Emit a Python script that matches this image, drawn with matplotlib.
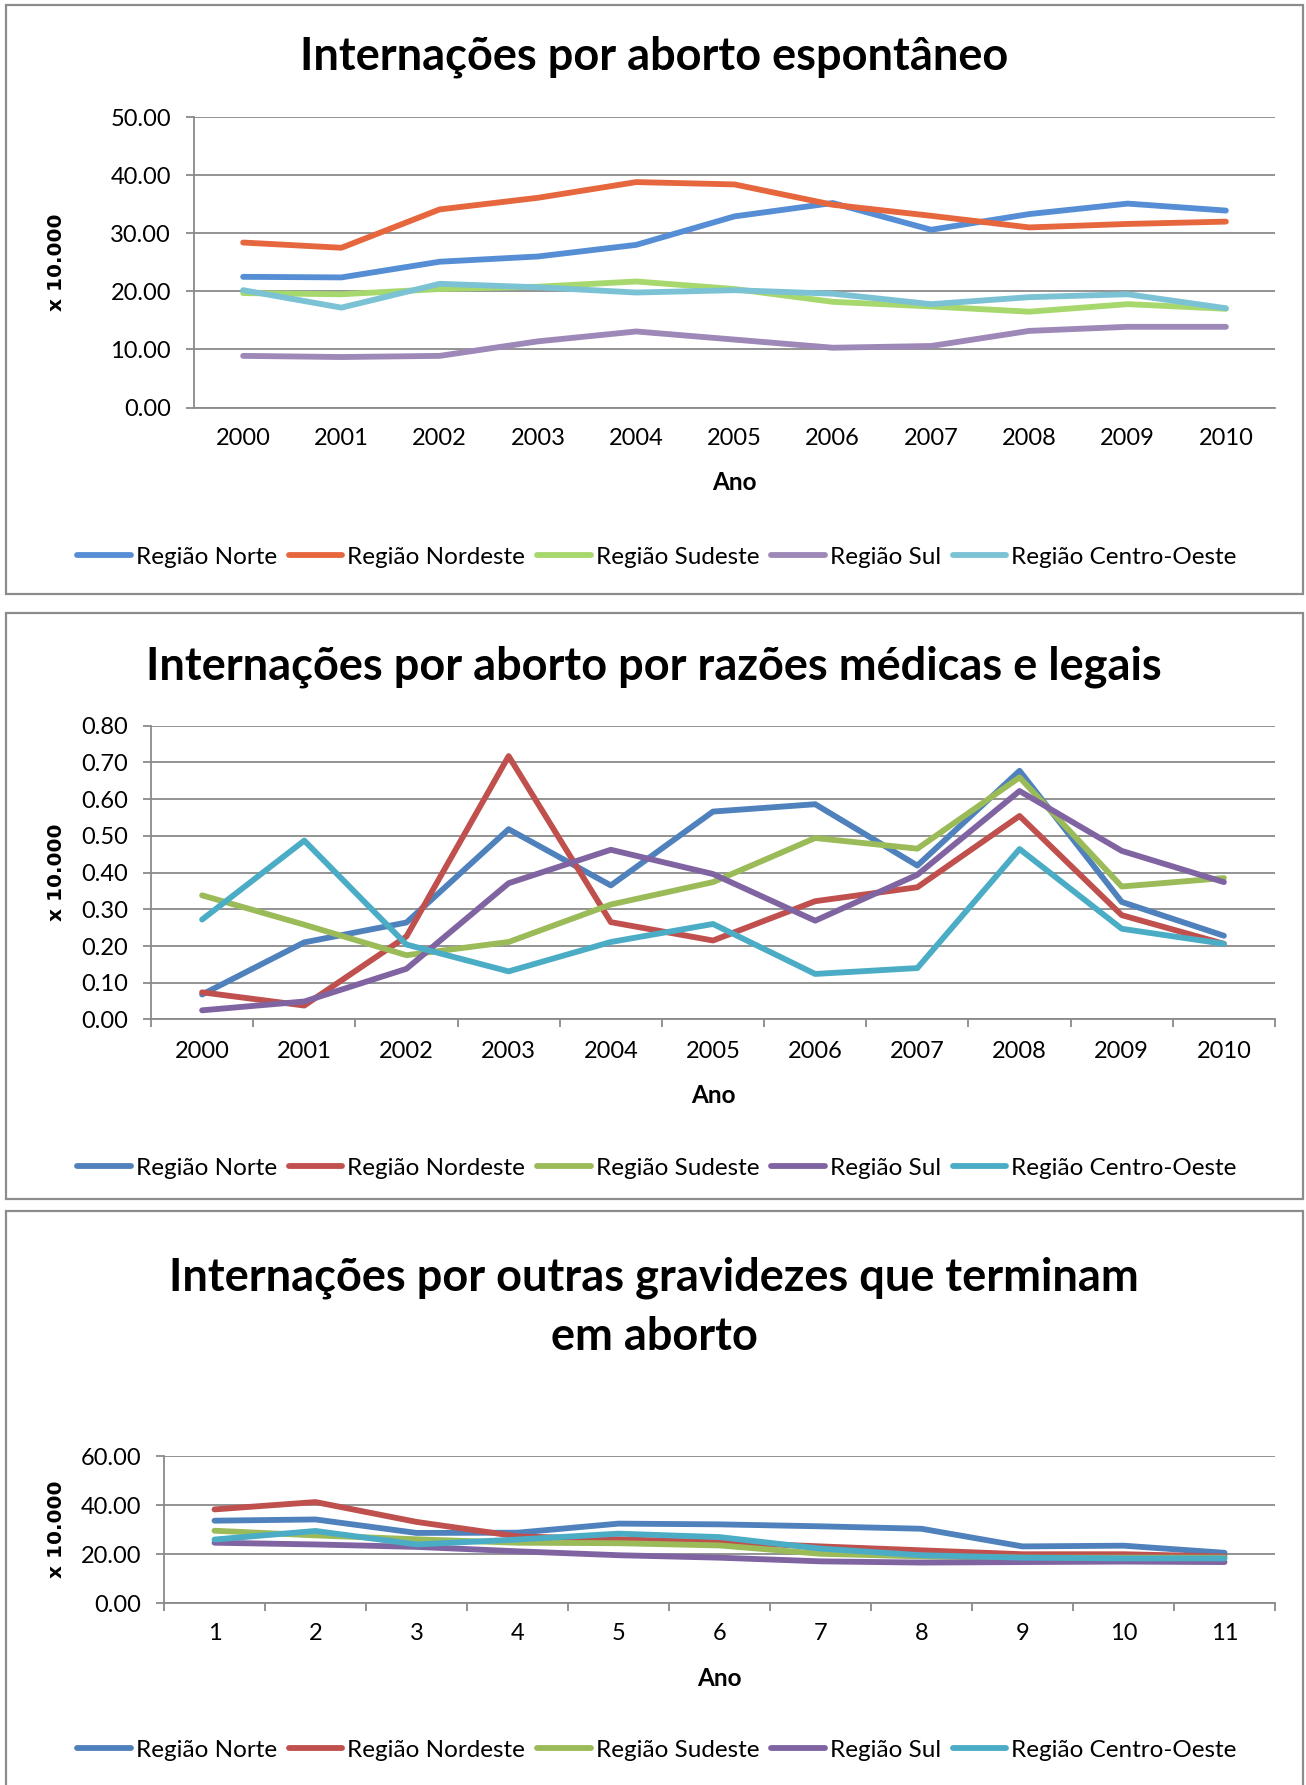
import matplotlib
matplotlib.use("Agg")
import matplotlib.pyplot as plt
from matplotlib.lines import Line2D
from matplotlib.patches import Rectangle

W, H = 1306, 1785
DPI = 100

regions = ["Região Norte", "Região Nordeste", "Região Sudeste", "Região Sul", "Região Centro-Oeste"]
years = ["2000", "2001", "2002", "2003", "2004", "2005", "2006", "2007", "2008", "2009", "2010"]
index_labels = ["1", "2", "3", "4", "5", "6", "7", "8", "9", "10", "11"]

# Chart 1: Internações por aborto espontâneo
c1_norte = [22.5, 22.4, 25.1, 26.0, 28.0, 32.9, 35.2, 30.6, 33.3, 35.1, 33.9]
c1_nordeste = [28.4, 27.5, 34.1, 36.1, 38.8, 38.4, 34.9, 33.0, 31.0, 31.6, 32.0]
c1_sudeste = [19.7, 19.5, 20.4, 20.8, 21.7, 20.4, 18.2, 17.4, 16.5, 17.8, 17.0]
c1_sul = [8.9, 8.7, 8.9, 11.4, 13.1, 11.7, 10.3, 10.6, 13.2, 13.9, 13.9]
c1_co = [20.2, 17.2, 21.3, 20.7, 19.8, 20.2, 19.6, 17.8, 19.0, 19.5, 17.1]

# Chart 2: Internações por aborto por razões médicas e legais
c2_norte = [0.068, 0.210, 0.264, 0.518, 0.365, 0.566, 0.586, 0.419, 0.677, 0.320, 0.228]
c2_nordeste = [0.074, 0.038, 0.226, 0.717, 0.265, 0.215, 0.322, 0.360, 0.554, 0.284, 0.206]
c2_sudeste = [0.338, 0.258, 0.175, 0.211, 0.313, 0.374, 0.494, 0.465, 0.659, 0.362, 0.385]
c2_sul = [0.025, 0.049, 0.138, 0.371, 0.462, 0.396, 0.269, 0.394, 0.622, 0.459, 0.374]
c2_co = [0.272, 0.487, 0.204, 0.131, 0.211, 0.260, 0.124, 0.140, 0.464, 0.247, 0.206]

# Chart 3: Internações por outras gravidezes que terminam em aborto
c3_norte = [33.6, 34.1, 28.6, 28.7, 32.4, 32.1, 31.3, 30.3, 23.1, 23.4, 20.5]
c3_nordeste = [38.2, 41.2, 33.1, 27.2, 26.0, 24.8, 23.1, 21.5, 19.9, 19.9, 19.0]
c3_sudeste = [29.5, 27.6, 26.0, 24.6, 24.4, 23.5, 20.1, 19.0, 18.5, 18.5, 18.5]
c3_sul = [24.6, 23.9, 22.9, 21.1, 19.5, 18.5, 17.0, 16.5, 16.7, 16.9, 16.7]
c3_co = [25.9, 29.4, 23.9, 25.9, 28.3, 26.9, 22.2, 19.5, 18.5, 18.2, 18.2]

colors_a = ["#568ED6", "#E6673D", "#A7D86D", "#9D88B8", "#7BC2D5"]
colors_b = ["#4F81BD", "#C0504D", "#9BBB59", "#8064A2", "#4BACC6"]

TXT = "Lato"
GRID = "#8a8a8a"
LW = 4.2
FS = 17

fig = plt.figure(figsize=(W / DPI, H / DPI), dpi=DPI)


def fx(x):
    return x / W


def fy(y):
    return 1 - y / H


def chart(frame, title_lines, title_ys, box, cats, series, colors, ymax, ystep,
          xticks_marks, tick_y, ano_y, legend_y):
    fl, ft, fr, fb = frame
    fig.patches.append(Rectangle((fx(fl), fy(fb)), fx(fr - fl), (fb - ft) / H,
                                 transform=fig.transFigure, fill=False,
                                 ec="#8c8c8c", lw=1.6, zorder=0))
    for t, yy in zip(title_lines, title_ys):
        fig.text(fx(654), fy(yy), t, ha="center", va="center", fontsize=32.5,
                 fontweight="bold", family=TXT)
    l, t, r, b = box
    ax = fig.add_axes([fx(l), fy(b), fx(r - l), (b - t) / H])
    xs = list(range(len(cats)))
    for vals, c in zip(series, colors):
        ax.plot(xs, vals, color=c, lw=LW, solid_capstyle="round",
                solid_joinstyle="round", zorder=3)
    ax.set_xlim(-0.5, len(cats) - 0.5)
    ax.set_ylim(0, ymax)
    nt = int(round(ymax / ystep))
    yt = [i * ystep for i in range(nt + 1)]
    ax.set_yticks(yt)
    ax.set_yticklabels([f"{v:.2f}" for v in yt], family=TXT, fontsize=FS)
    ax.set_xticks(xs)
    ax.set_xticklabels(cats, family=TXT, fontsize=FS)
    ax.grid(axis="y", color=GRID, lw=1.3, zorder=1)
    ax.set_axisbelow(True)
    for s in ["top", "right"]:
        ax.spines[s].set_visible(False)
    ax.spines["left"].set_color(GRID)
    ax.spines["left"].set_linewidth(1.3)
    ax.spines["bottom"].set_color(GRID)
    ax.spines["bottom"].set_linewidth(1.3)
    ax.tick_params(axis="y", length=5.5, width=1.3, color=GRID, pad=11)
    gap_pt = (tick_y - b - 14) / 1.389
    if xticks_marks:
        ax.set_xticks([i + 0.5 for i in range(-1, len(cats))], minor=True)
        ax.tick_params(axis="x", which="minor", length=5.8, width=1.3, color=GRID)
        ax.tick_params(axis="x", which="major", length=0, pad=gap_pt)
    else:
        ax.tick_params(axis="x", length=0, pad=gap_pt)
    fig.text(fx(57), fy((t + b) / 2), "x 10.000", rotation=90, ha="center",
             va="center", fontsize=14.5, fontweight="bold", family="DejaVu Sans")
    fig.text(fx((l + r) / 2), fy(ano_y), "Ano", ha="center", va="center",
             fontsize=17.5, fontweight="bold", family=TXT)
    handles = [Line2D([0], [0], color=c, lw=LW, solid_capstyle="round") for c in colors]
    fig.legend(handles, regions, loc="center", bbox_to_anchor=(fx(657), fy(legend_y)),
               ncol=5, frameon=False, prop={"family": TXT, "size": 17.5},
               handlelength=2.2, handletextpad=0.2, columnspacing=0.5,
               borderaxespad=0, borderpad=0)
    return ax


chart((6, 5, 1303, 594), ["Internações por aborto espontâneo"], [57],
      (194, 117, 1275, 407.6), years,
      [c1_norte, c1_nordeste, c1_sudeste, c1_sul, c1_co], colors_a, 50, 10,
      False, 442, 483, 557)

chart((6, 613, 1303, 1199), ["Internações por aborto por razões médicas e legais"], [667],
      (151, 725.6, 1275, 1019.5), years,
      [c2_norte, c2_nordeste, c2_sudeste, c2_sul, c2_co], colors_b, 0.8, 0.1,
      True, 1055, 1095, 1168)

chart((6, 1211, 1303, 1795), ["Internações por outras gravidezes que terminam", "em aborto"],
      [1278, 1337],
      (164, 1456, 1275, 1603), index_labels,
      [c3_norte, c3_nordeste, c3_sudeste, c3_sul, c3_co], colors_b, 60, 20,
      True, 1637, 1678, 1750)

fig.savefig("out.png", dpi=DPI)
